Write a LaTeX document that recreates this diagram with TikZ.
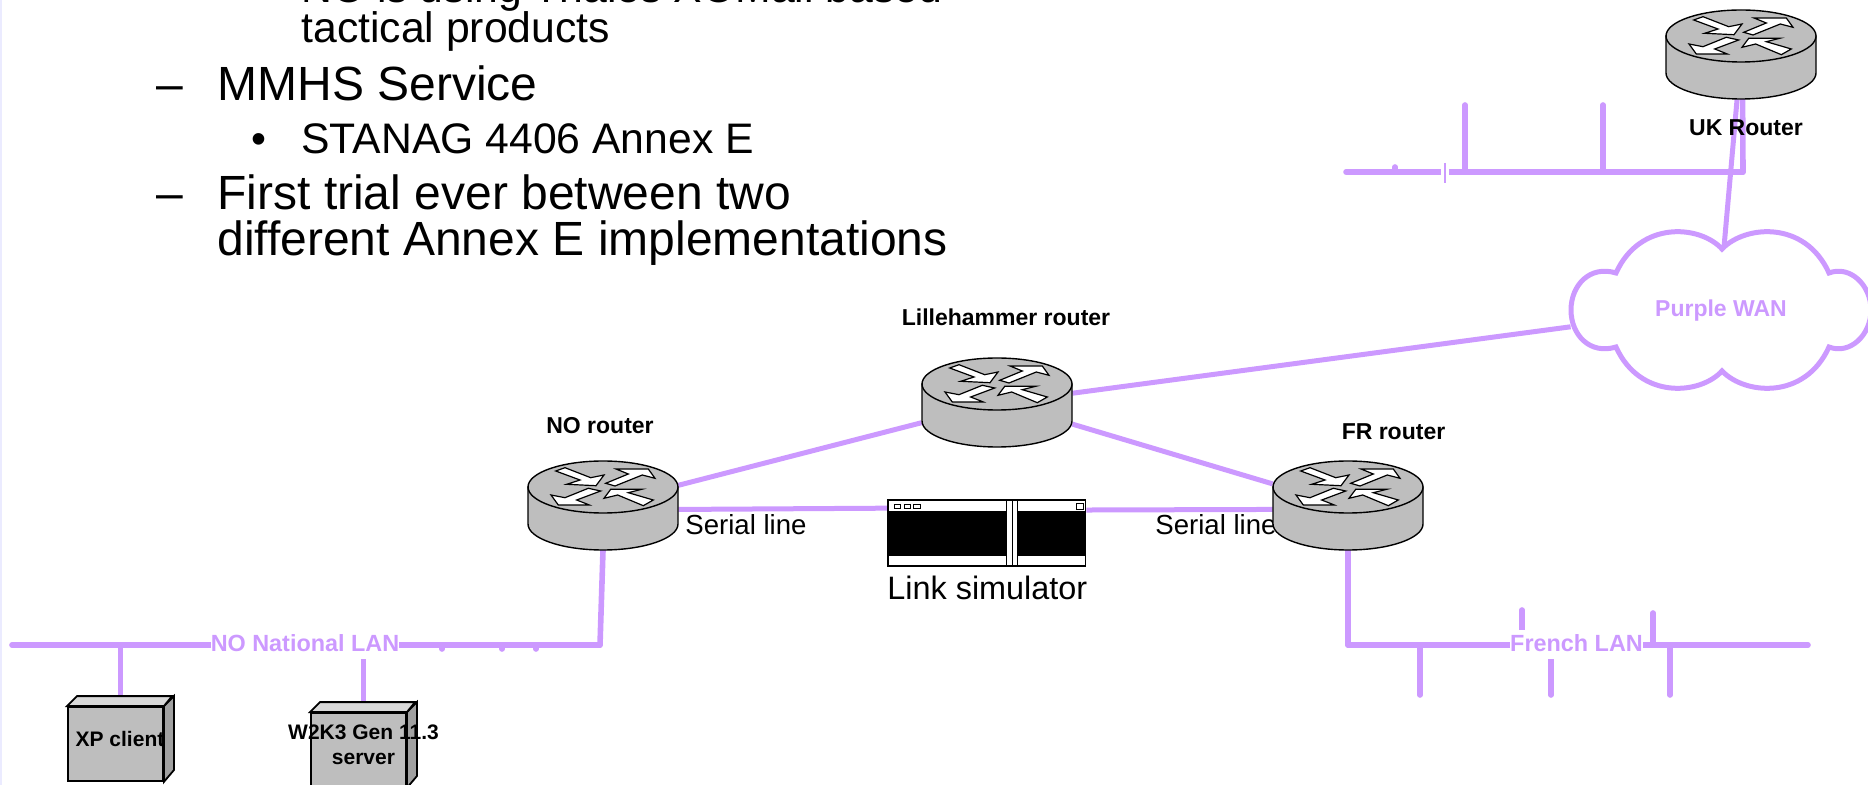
\documentclass[tikz,border=0pt]{standalone}
\usepackage{fontspec}
\setmainfont{Liberation Sans}
\usetikzlibrary{backgrounds}
\definecolor{lanpurple}{HTML}{CC99FF}
\definecolor{boxgray}{HTML}{BEBEBE}
\tikzset{
  lnk/.style={draw=lanpurple, line width=2.5pt},
  lan/.style={draw=lanpurple, line width=2.8pt, line cap=round},
  itm/.style={anchor=base west, inner sep=0pt, font=\fontsize{24}{24}\selectfont},
  sub/.style={anchor=base west, inner sep=0pt, font=\fontsize{21.35}{21.35}\selectfont},
  lbl/.style={anchor=base, inner sep=0pt, font=\fontsize{11.5}{11.5}\selectfont\bfseries},
  hostlbl/.style={anchor=base, inner sep=0pt, font=\fontsize{10.5}{10.5}\selectfont\bfseries},
  plain/.style={anchor=base west, inner sep=0pt, font=\fontsize{13.8}{13.8}\selectfont},
  lanlbl/.style={anchor=base, inner xsep=0pt, inner ysep=0pt, fill=white, text=lanpurple, text height=10.5pt, text depth=4pt, font=\fontsize{11.7}{11.7}\selectfont\bfseries},
  rt/.style={rectangle, inner sep=0pt, minimum width=75pt, minimum height=44.5pt},
  host/.style={rectangle, draw, line width=0.9pt, fill=boxgray, inner sep=0pt, minimum width=47.5pt, minimum height=37pt},
  arw/.style={draw, fill=white, line width=0.6pt, line join=miter},
  rtr/.pic={
    \draw[fill=boxgray, line width=0.7pt] (-75,-18.5) -- (-75,18.5) .. controls (-75,32.8) and (-41.3,44.5) .. (0,44.5) .. controls (41.3,44.5) and (75,32.8) .. (75,18.5) -- (75,-18.5) -- cycle;
    \draw[fill=boxgray, line width=0.7pt] (0,-18.5) ellipse [x radius=75, y radius=26];
    \begin{scope}[shift={(0,-18.5)}]
      \draw[arw] (-47.3,-16) -- (-38,-19.3) -- (-12.3,-9.3) -- (1,-12) -- (-7,-1.3) -- (-36.3,-2.7) -- (-23,-7) -- cycle;
      \draw[arw] (2.7,-3.7) -- (25.3,-13) -- (13,-18) -- (45.3,-18) -- (52,-8.7) -- (39.3,-12) -- (12,-1) -- cycle;
      \draw[arw] (-14.7,1.3) -- (-2.3,4) -- (-26.3,13) -- (-13.7,18) -- (-44.7,18) -- (-52,8) -- (-38,10.7) -- cycle;
      \draw[arw] (1,11.3) -- (7.7,2.3) -- (38.7,2.3) -- (25.3,5.7) -- (50.3,13) -- (40.3,18.7) -- (14.7,8) -- cycle;
    \end{scope}
  }
}

\begin{document}
\begin{tikzpicture}[x=0.5pt, y=-0.5pt]
    \path[use as bounding box, clip] (0,0) rectangle (1868,785);
    \fill[blue!8] (0,0) rectangle (2,785);

    % Slide text
    \node[sub] (t0) at (301,3) {NO is using Thales XOMail based};
    \node[sub] (t1) at (301,43) {tactical products};
    \node[itm] (d1) at (156,100.5) {--};
    \node[itm] (t2) at (217,100.5) {MMHS Service};
    \node[sub] (b1) at (251,153.5) {•};
    \node[sub] (t3) at (301,153.5) {STANAG 4406 Annex E};
    \node[itm] (d2) at (156,209.5) {--};
    \node[itm] (t4) at (217,209.5) {First trial ever between two};
    \node[itm] (t5) at (217,256) {different Annex E implementations};

    % Serial line labels sit under the routers
    \node[plain] (sl1) at (685,534.5) {Serial line};
    \node[plain] (sl2) at (1155,534.5) {Serial line};

    % Routers
    \node[rt] (no) at (603,505.5) {};
    \pic at (no) {rtr};
    \node[rt] (lil) at (997,402.5) {};
    \pic at (lil) {rtr};
    \node[rt] (fr) at (1348,505.5) {};
    \pic at (fr) {rtr};
    \node[rt] (uk) at (1741,54.5) {};
    \pic at (uk) {rtr};

    % Router labels
    \node[lbl] (nol) at (600,434) {NO router};
    \node[lbl] (lill) at (1006,326) {Lillehammer router};
    \node[lbl] (frl) at (1393.5,440) {FR router};
    \node[lbl] (ukl) at (1746,136) {UK Router};

    % Link simulator
    \node[rectangle, draw, line width=0.8pt, fill=white, inner sep=0pt, minimum width=98.75pt, minimum height=33pt] (sim) at (986.75,533) {};
    \fill (888,511) rectangle (1006,556);
    \fill (1017,511) rectangle (1085.5,556);
    \draw[line width=0.5pt] (1006,500) -- (1006,566);
    \draw[line width=0.5pt] (1012,500) -- (1012,566);
    \draw[line width=0.5pt] (1017,500) -- (1017,566);
    \draw[line width=0.4pt] (894,504) rectangle (900,508);
    \draw[line width=0.4pt] (904,504) rectangle (910,508);
    \draw[line width=0.4pt] (913,504) rectangle (920,508);
    \draw[line width=0.4pt] (1076,503) rectangle (1083,509);
    \node[anchor=base west, inner sep=0pt, font=\fontsize{16.2}{16.2}\selectfont] (siml) at (887,600) {Link simulator};

    % Purple WAN cloud
    \draw[lanpurple, line width=2.5pt, line join=miter] (1722,249) .. controls (1700,225) and (1640,220) .. (1616,273)
      .. controls (1590,265) and (1571,285) .. (1571,310)
      .. controls (1571,335) and (1590,355) .. (1616,347)
      .. controls (1640,400) and (1700,395) .. (1722,371)
      .. controls (1745,395) and (1805,400) .. (1829,347)
      .. controls (1850,355) and (1871,335) .. (1871,310)
      .. controls (1871,285) and (1850,265) .. (1829,273)
      .. controls (1805,220) and (1745,225) .. (1722,249) -- cycle;
    \node[rectangle, inner sep=0pt, minimum width=150pt, minimum height=80pt, text=lanpurple, font=\fontsize{11.5}{11.5}\selectfont\bfseries] (wan) at (1721,311) {Purple WAN};
    \coordinate (wanTop) at (1724,247);

    % Hosts
    \node[host] (xp) at (115.5,744) {};
    \draw[fill=black!15!boxgray, line width=0.9pt] (xp.north east) -- ++(10,-10) -- ++(0,74) -- (xp.south east) -- cycle;
    \draw[fill=black!15, line width=0.9pt] (xp.north west) -- ++(10,-10) -- ++(95,0) -- (xp.north east) -- cycle;
    \node[host] (srv) at (358.5,750) {};
    \draw[fill=black!15!boxgray, line width=0.9pt] (srv.north east) -- ++(10,-10) -- ++(0,74) -- (srv.south east) -- cycle;
    \draw[fill=black!15, line width=0.9pt] (srv.north west) -- ++(10,-10) -- ++(95,0) -- (srv.north east) -- cycle;
    \node[hostlbl] (xpl) at (120,746) {XP client};
    \node[hostlbl] (srvl) at (363.5,739) {W2K3 Gen 11.3};
    \node[hostlbl] (srvm) at (363.5,764) {server};

    % LAN ends
    \coordinate (noW) at (12,645);
    \coordinate (noE) at (600,645);
    \coordinate (frW) at (1348,645);
    \coordinate (frE) at (1808,645);
    \coordinate (ukW) at (1346,172);
    \coordinate (ukE) at (1743,172);

    % Links between routers and LANs, behind everything
    \begin{scope}[on background layer]
      \draw[lnk] (no.15) -- (lil.195);
      \draw[lnk] (no.-3) -- (sim.166.4);
      \draw[lnk] (sim.13.6) -- (fr.183);
      \draw[lnk] (lil.-16) -- (fr.164);
      \draw[lnk] (lil.7) -- (wan.186.8);
      \draw[lnk] (uk.265) -- (wanTop);
      \draw[lan] (uk.272) -- (ukE);
      \draw[lan] (no.south) -- (noE);
      \draw[lan] (fr.south) -- (frW);

      \draw[lan] (noW) -- (noE);
      \draw[lan] (frW) -- (frE);
      \draw[lan] (ukW) -- (ukE);

      % Stubs on the LANs
      \draw[lan, line cap=butt] (120.5,645) coordinate (xpT) -- (xpT |- xp.north);
      \draw[lan, line cap=butt] (363.5,645) coordinate (srvT) -- (srvT |- srv.north);
      \foreach \x/\y [count=\i] in {1420/695, 1551/695, 1670/695, 1522/610, 1653/613} {
        \coordinate (frT\i) at (\x,645);
        \coordinate (frS\i) at (\x,\y);
        \draw[lan] (frT\i) -- (frS\i);
      }
      \foreach \x [count=\i] in {1465, 1603} {
        \coordinate (ukT\i) at (\x,172);
        \coordinate (ukS\i) at (\x,105);
        \draw[lan] (ukT\i) -- (ukS\i);
      }
      \foreach \x [count=\i] in {442, 502, 536} {
        \coordinate (noT\i) at (\x,645);
        \coordinate (noS\i) at (\x,649);
        \draw[lan] (noT\i) -- (noS\i);
      }
      \coordinate (ukN) at (1395,172);
      \coordinate (ukM) at (1395,167);
      \draw[lan] (ukN) -- (ukM);
    \end{scope}

    % Break in the UK LAN
    \fill[white] (1441,168) rectangle (1449,176);
    \coordinate (ukB) at (1445,163);
    \coordinate (ukC) at (1445,183);
    \draw[lanpurple, line width=0.9pt] (ukB) -- (ukC);

    % LAN labels
    \node[lanlbl] (nolan) at (305,651) {NO National LAN};
    \node[lanlbl] (frlan) at (1576.5,651) {French LAN};
\end{tikzpicture}
\end{document}
